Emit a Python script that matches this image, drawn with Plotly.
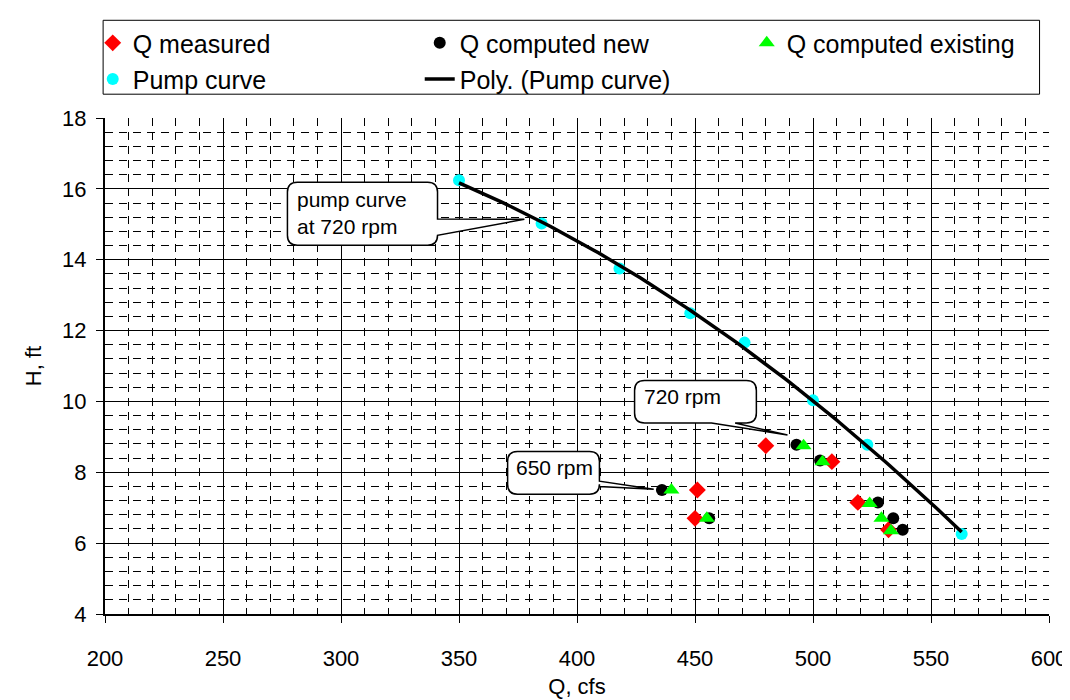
import numpy as np
import plotly.graph_objects as go

# ---------------- data ----------------
q_measured = [480, 508, 519, 532, 451, 450]
h_measured = [8.75, 8.30, 7.15, 6.38, 7.50, 6.70]

q_new = [493, 503, 527.5, 534, 538, 436, 456]
h_new = [8.78, 8.33, 7.15, 6.70, 6.38, 7.50, 6.70]

q_existing = [496, 504, 524, 529, 533, 440, 455]
h_existing = [8.75, 8.30, 7.12, 6.70, 6.35, 7.50, 6.70]

q_pump = [350, 385, 418, 448, 471, 500, 523, 563]
h_pump = [16.24, 15.02, 13.75, 12.49, 11.66, 10.03, 8.78, 6.26]

x_ticks = [200, 250, 300, 350, 400, 450, 500, 550, 600]
y_ticks = [4, 6, 8, 10, 12, 14, 16, 18]

# polynomial (order 2) trendline of the pump curve
coef = np.polyfit(q_pump, h_pump, 2)
q_fit = np.linspace(min(q_pump), max(q_pump), 120)
h_fit = np.polyval(coef, q_fit)

FONT = "Liberation Sans, Arial, sans-serif"

fig = go.Figure()
fig.add_trace(go.Scatter(x=q_measured, y=h_measured, mode="markers", name="Q measured",
                         marker=dict(symbol="diamond", size=13, color="#FF0000")))
fig.add_trace(go.Scatter(x=q_new, y=h_new, mode="markers", name="Q computed new",
                         marker=dict(symbol="circle", size=12, color="#000000")))
fig.add_trace(go.Scatter(x=q_existing, y=h_existing, mode="markers", name="Q computed existing",
                         marker=dict(symbol="triangle-up", size=14, color="#00FF00")))
fig.add_trace(go.Scatter(x=q_pump, y=h_pump, mode="markers", name="Pump curve", legend="legend2",
                         marker=dict(symbol="circle", size=12, color="#00FFFF")))
fig.add_trace(go.Scatter(x=q_fit, y=h_fit, mode="lines", name="Poly. (Pump curve)", legend="legend2",
                         line=dict(color="black", width=3.5)))


def callout(x0, x1, y0, y1, side, b1, b2, tip, rx=4.2, ry=0.28):
    """Rounded rectangle callout path in data coords. y0 bottom, y1 top."""
    p = [f"M {x0 + rx},{y1}", f"L {x1 - rx},{y1}", f"Q {x1},{y1} {x1},{y1 - ry}"]
    if side == "right":
        p += [f"L {x1},{b1}", f"L {tip[0]},{tip[1]}", f"L {x1},{b2}"]
    p += [f"L {x1},{y0 + ry}", f"Q {x1},{y0} {x1 - rx},{y0}"]
    if side == "bottom":
        p += [f"L {b2},{y0}", f"L {tip[0]},{tip[1]}", f"L {b1},{y0}"]
    p += [f"L {x0 + rx},{y0}", f"Q {x0},{y0} {x0},{y0 + ry}",
          f"L {x0},{y1 - ry}", f"Q {x0},{y1} {x0 + rx},{y1}", "Z"]
    return " ".join(p)


shapes = [
    # legend frame
    dict(type="rect", xref="paper", yref="paper", x0=-0.002, x1=0.99, y0=1.048, y1=1.197,
         line=dict(color="black", width=1), fillcolor="white", layer="below"),
    # callouts
    dict(type="path", xref="x", yref="y",
         path=callout(277.3, 340.9, 14.41, 16.19, "right", 15.15, 14.69, (377.7, 15.14)),
         line=dict(color="black", width=1.5), fillcolor="white", layer="above"),
    dict(type="path", xref="x", yref="y",
         path=callout(424.4, 476.0, 9.39, 10.59, "bottom", 457.0, 467.0, (489.2, 9.05)),
         line=dict(color="black", width=1.5), fillcolor="white", layer="above"),
    dict(type="path", xref="x", yref="y",
         path=callout(370.6, 409.5, 7.38, 8.59, "right", 7.75, 7.60, (432.5, 7.52)),
         line=dict(color="black", width=1.5), fillcolor="white", layer="above"),
]

CALLOUT_FONT = dict(family=FONT, size=21, color="black")
annotations = [
    dict(x=280.5, y=16.08, xref="x", yref="y", text="pump curve<br>at 720 rpm", showarrow=False,
         xanchor="left", yanchor="top", align="left", font=CALLOUT_FONT),
    dict(x=427.5, y=10.52, xref="x", yref="y", text="720 rpm", showarrow=False,
         xanchor="left", yanchor="top", align="left", font=CALLOUT_FONT),
    dict(x=373.5, y=8.52, xref="x", yref="y", text="650 rpm", showarrow=False,
         xanchor="left", yanchor="top", align="left", font=CALLOUT_FONT),
]

axis_common = dict(
    showgrid=True, gridcolor="black", gridwidth=1,
    showline=True, linecolor="black", linewidth=2,
    ticks="outside", ticklen=7, tickcolor="black", tickwidth=1,
    tickfont=dict(family=FONT, size=22, color="black"),
    zeroline=False,
)

fig.update_layout(
    width=1070, height=700,
    margin=dict(l=97, r=29, t=104, b=94),
    paper_bgcolor="white", plot_bgcolor="white",
    font=dict(family=FONT, size=20, color="black"),
    xaxis=dict(range=[200, 600], tickvals=x_ticks, ticklabelstandoff=17,
               title=dict(text="Q, cfs", font=dict(family=FONT, size=22), standoff=8),
               minor=dict(dtick=10, showgrid=True, gridcolor="black", gridwidth=1, griddash="8px,6px"),
               **axis_common),
    yaxis=dict(range=[4, 18], tickvals=y_ticks, ticklabelstandoff=5,
               title=dict(text="H, ft", font=dict(family=FONT, size=22), standoff=14),
               minor=dict(dtick=0.4, showgrid=True, gridcolor="black", gridwidth=1, griddash="8px,6px"),
               **axis_common),
    legend=dict(orientation="h", x=-0.013, xanchor="left", y=1.151, yanchor="middle",
                entrywidth=282, bgcolor="rgba(0,0,0,0)", font=dict(family=FONT, size=25, color="black")),
    legend2=dict(orientation="h", x=-0.013, xanchor="left", y=1.078, yanchor="middle",
                 entrywidth=282, bgcolor="rgba(0,0,0,0)", font=dict(family=FONT, size=25, color="black")),
    shapes=shapes,
    annotations=annotations,
)

fig.write_html("out.html")
